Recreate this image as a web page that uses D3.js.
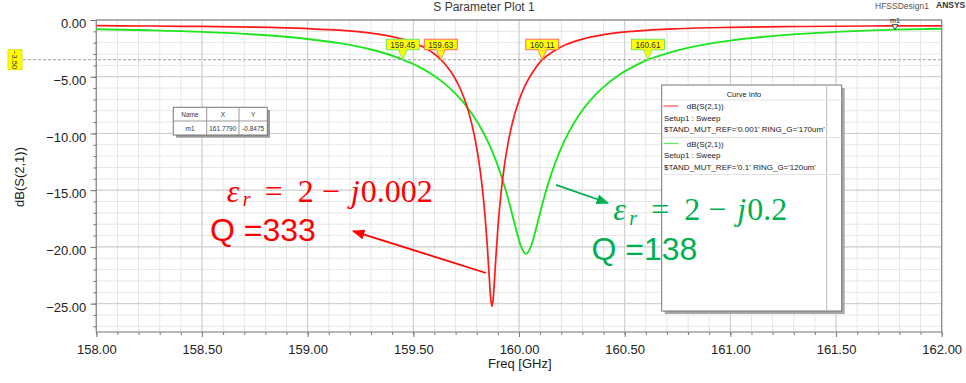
<!DOCTYPE html>
<html><head><meta charset="utf-8">
<script src="https://cdn.jsdelivr.net/npm/d3@7"></script>
<style>
html,body{margin:0;padding:0;background:#fff;}
svg{display:block;font-family:"Liberation Sans",Arial,sans-serif;}
</style></head><body>
<svg id="chart" width="966" height="383"></svg>
<script>
// Trace A: tan delta 0.001, ring gap 170 um
const freqA = [158.00,158.25,158.50,158.75,159.00,159.15,159.30,159.40,159.48,159.55,159.60,159.63,159.66,159.69,159.72,159.75,159.77,159.79,159.81,159.825,159.84,159.85,159.86,159.866,159.872,159.878,159.884,159.89,159.90,159.915,159.93,159.95,159.97,160.00,160.03,160.06,160.11,160.16,160.22,160.30,160.40,160.55,160.75,161.00,161.25,161.50,161.75,162.00];
const dbA   = [-0.50,-0.53,-0.57,-0.63,-0.76,-0.90,-1.16,-1.46,-1.86,-2.41,-3.00,-3.50,-4.12,-4.91,-5.97,-7.41,-8.67,-10.29,-12.44,-14.58,-17.44,-19.93,-22.90,-24.54,-25.25,-24.54,-22.90,-21.08,-18.37,-15.25,-12.95,-10.67,-8.97,-7.09,-5.74,-4.74,-3.50,-2.80,-2.19,-1.68,-1.29,-0.98,-0.77,-0.65,-0.59,-0.55,-0.52,-0.51];
// Trace B: tan delta 0.1, ring gap 120 um
const freqB = [158.00,158.25,158.50,158.75,159.00,159.15,159.30,159.38,159.45,159.52,159.60,159.67,159.73,159.78,159.83,159.87,159.91,159.94,159.97,159.99,160.01,160.033,160.055,160.075,160.095,160.125,160.155,160.195,160.235,160.285,160.335,160.395,160.465,160.545,160.61,160.70,160.85,161.00,161.25,161.50,161.779,162.00];
const dbB   = [-0.81,-0.91,-1.05,-1.28,-1.67,-2.04,-2.60,-3.02,-3.50,-4.07,-4.94,-5.96,-7.11,-8.33,-9.87,-11.43,-13.39,-15.19,-17.27,-18.73,-19.98,-20.61,-20.03,-18.80,-17.35,-15.25,-13.45,-11.48,-9.91,-8.35,-7.13,-5.98,-4.95,-4.07,-3.50,-2.94,-2.26,-1.82,-1.33,-1.05,-0.8475,-0.77];

const xTicks = [158.0,158.5,159.0,159.5,160.0,160.5,161.0,161.5,162.0];
const yTicks = [0,-5,-10,-15,-20,-25];
const markerLevel = -3.5;
const markerFreqs = [159.45,159.63,160.11,160.61];
const markerTrace = ["B","A","A","B"];
const m1Freq = 161.779;
const m1Value = -0.8475;

const colA = "#ff1a1a", colB = "#1ee61e";
const svg = d3.select("#chart");
const L = 96.3, R = 941.7, T = 20, B = 332;
const x = d3.scaleLinear().domain([158,162]).range([L,R]);
const y = d3.scaleLinear().domain([-27.5,0]).range([B,T]);

// titles
svg.append("text").attr("x",484).attr("y",11).attr("text-anchor","middle")
  .attr("font-size",12).attr("fill","#3a3a3a").text("S Parameter Plot 1");
svg.append("text").attr("x",875).attr("y",9).attr("font-size",8.5).attr("fill","#555").text("HFSSDesign1");
svg.append("text").attr("x",936).attr("y",8).attr("font-size",8.5).attr("font-weight","bold").attr("fill","#333").text("ANSYS");

// grid
const g = svg.append("g");
const minorX = d3.range(0,41).map(i=>158+i*0.1);
const minorY = d3.range(0,28).map(i=>-i);
g.selectAll(".mx").data(minorX).join("line")
  .attr("x1",d=>x(d)).attr("x2",d=>x(d)).attr("y1",T).attr("y2",B)
  .attr("stroke","#e6e6e6").attr("stroke-width",1);
g.selectAll(".my").data(minorY).join("line")
  .attr("x1",L).attr("x2",R).attr("y1",d=>y(d)).attr("y2",d=>y(d))
  .attr("stroke","#e6e6e6").attr("stroke-width",1);
g.selectAll(".Mx").data(xTicks).join("line")
  .attr("x1",d=>x(d)).attr("x2",d=>x(d)).attr("y1",T).attr("y2",B)
  .attr("stroke","#cdcdcd").attr("stroke-width",1);
g.selectAll(".My").data(yTicks).join("line")
  .attr("x1",L).attr("x2",R).attr("y1",d=>y(d)).attr("y2",d=>y(d))
  .attr("stroke","#cdcdcd").attr("stroke-width",1);

// axes
const fmt = d3.format(".2f");
const xMinor = svg.append("g").attr("transform",`translate(0,${B})`)
  .call(d3.axisBottom(x).tickValues(minorX).tickSize(3).tickFormat(""));
const xAxis = svg.append("g").attr("transform",`translate(0,${B})`)
  .call(d3.axisBottom(x).tickValues(xTicks).tickSize(5).tickPadding(8).tickFormat(fmt));
const yMinor = svg.append("g").attr("transform",`translate(${L},0)`)
  .call(d3.axisLeft(y).tickValues(minorY).tickSize(3).tickFormat(""));
const yAxis = svg.append("g").attr("transform",`translate(${L},0)`)
  .call(d3.axisLeft(y).tickValues(yTicks).tickSize(6).tickPadding(4).tickFormat(fmt));
[xMinor,xAxis,yMinor,yAxis].forEach(a=>{
  a.select(".domain").remove();
  a.selectAll("line").attr("stroke","#777");
  a.selectAll("text").attr("font-size",13).attr("fill","#222")
   .attr("font-family","'Liberation Sans',Arial,sans-serif");
});
yAxis.selectAll("text").attr("dy","0.6em");
svg.append("rect").attr("x",L).attr("y",T).attr("width",R-L).attr("height",B-T)
  .attr("fill","none").attr("stroke","#8a8a8a").attr("stroke-width",1.2);

svg.append("text").attr("x",488).attr("y",368).attr("font-size",13).attr("fill","#222").text("Freq [GHz]");
svg.append("text").attr("transform","translate(24,177) rotate(-90)").attr("text-anchor","middle")
  .attr("font-size",13).attr("fill","#222").text("dB(S(2,1))");

// traces
svg.append("clipPath").attr("id","plotclip").append("rect")
  .attr("x",L).attr("y",T).attr("width",R-L).attr("height",B-T);
const line = d3.line().x(d=>x(d[0])).y(d=>y(d[1])).curve(d3.curveMonotoneX);
const dataA = freqA.map((f,i)=>[f,dbA[i]]);
const dataB = freqB.map((f,i)=>[f,dbB[i]]);
const traces = svg.append("g").attr("clip-path","url(#plotclip)");
traces.append("path").datum(dataB).attr("d",line).attr("fill","none")
  .attr("stroke",colB).attr("stroke-width",1.9);
traces.append("path").datum(dataA).attr("d",line).attr("fill","none")
  .attr("stroke",colA).attr("stroke-width",1.7);

// -3.5 dB reference line and its label
svg.append("line").attr("x1",23).attr("x2",R).attr("y1",y(markerLevel)).attr("y2",y(markerLevel))
  .attr("stroke","#a0a0a0").attr("stroke-dasharray","3,2").attr("stroke-width",1);
svg.append("rect").attr("x",8).attr("y",y(markerLevel)-10).attr("width",14).attr("height",20)
  .attr("fill","#ffff00").attr("stroke","#d8d800").attr("stroke-width",0.8);
svg.append("text").attr("transform",`translate(15,${y(markerLevel)}) rotate(90)`)
  .attr("text-anchor","middle").attr("dy","0.35em").attr("font-size",7.5).attr("fill","#333")
  .text(fmt(markerLevel));

// crossing markers
const mk = svg.append("g");
markerFreqs.forEach((f,i)=>{
  const px = x(f), py = y(markerLevel);
  const sc = markerTrace[i]==="A" ? "#ff6a6a" : "#6ae86a";
  mk.append("path").attr("d",`M${px-4.5},${py-10}L${px+4.5},${py-10}L${px},${py}Z`)
    .attr("fill","#ffff00").attr("stroke",sc).attr("stroke-width",0.8);
  mk.append("rect").attr("x",px-16.5).attr("y",py-20.5).attr("width",33).attr("height",10.5)
    .attr("fill","#ffff00").attr("stroke",sc).attr("stroke-width",1);
  mk.append("path").attr("d",`M${px-4},${py-10.3}L${px+4},${py-10.3}`).attr("stroke","#ffff00").attr("stroke-width",1.2);
  mk.append("text").attr("x",px).attr("y",py-12.2).attr("text-anchor","middle")
    .attr("font-size",8.2).attr("fill","#333").text(f.toFixed(2));
});

// m1 marker
const m1x = x(m1Freq), m1y = y(m1Value);
svg.append("path").attr("d",`M${m1x-3},${m1y-5}L${m1x+3},${m1y-5}L${m1x},${m1y}Z`)
  .attr("fill","#fff").attr("stroke","#333").attr("stroke-width",0.9);
svg.append("text").attr("x",m1x).attr("y",m1y-7).attr("text-anchor","middle")
  .attr("font-size",7).attr("fill","#222").text("m1");

// marker table
const tb = svg.append("g").attr("font-size",6.5).attr("fill","#333");
tb.append("rect").attr("x",176).attr("y",110).attr("width",94).attr("height",27.7).attr("fill","#9a9a9a");
tb.append("rect").attr("x",173.3).attr("y",107.3).attr("width",94).attr("height",27.7)
  .attr("fill","#fff").attr("stroke","#777").attr("stroke-width",1);
tb.append("line").attr("x1",173.3).attr("x2",267.3).attr("y1",121).attr("y2",121).attr("stroke","#999");
[206.7,239].forEach(cx=>tb.append("line").attr("x1",cx).attr("x2",cx).attr("y1",107.3).attr("y2",135).attr("stroke","#999"));
const cols = [190,222.8,253.2];
["Name","X","Y"].forEach((t,i)=>tb.append("text").attr("x",cols[i]).attr("y",116.5).attr("text-anchor","middle").text(t));
["m1",m1Freq.toFixed(4),m1Value.toFixed(4)].forEach((t,i)=>tb.append("text").attr("x",cols[i]).attr("y",130.5).attr("text-anchor","middle").text(t));

// curve info box
const ci = svg.append("g").attr("font-size",8).attr("fill","#222");
ci.append("rect").attr("x",664.7).attr("y",88).attr("width",180).attr("height",226).attr("fill","#a8a8a8");
ci.append("rect").attr("x",661.7).attr("y",85).attr("width",180).attr("height",226)
  .attr("fill","#fff").attr("stroke","#777").attr("stroke-width",1);
ci.append("line").attr("x1",826.7).attr("x2",826.7).attr("y1",85).attr("y2",311).attr("stroke","#bbb");
[100,137.5,174.5].forEach(yy=>ci.append("line").attr("x1",662).attr("x2",841.5).attr("y1",yy).attr("y2",yy).attr("stroke","#e2e2e2"));
ci.append("text").attr("x",744).attr("y",96.5).attr("text-anchor","middle").attr("font-size",7.5).text("Curve Info");
const entries = [
  {c:colA, y0:106, sub:"$TAND_MUT_REF='0.001' RING_G='170um'"},
  {c:colB, y0:143.5, sub:"$TAND_MUT_REF='0.1' RING_G='120um'"}
];
entries.forEach(e=>{
  ci.append("line").attr("x1",663.5).attr("x2",678.5).attr("y1",e.y0).attr("y2",e.y0)
    .attr("stroke",e.c).attr("stroke-width",1.3).attr("opacity",0.7);
  ci.append("text").attr("x",686.7).attr("y",e.y0+3).text("dB(S(2,1))");
  ci.append("text").attr("x",664).attr("y",e.y0+14.5).text("Setup1 : Sweep");
  ci.append("text").attr("x",664).attr("y",e.y0+26).text(e.sub);
});

// annotations
function eqn(x0, base, color, tail){
  const t = svg.append("text").attr("y",base).attr("fill",color)
    .attr("font-family","'Liberation Serif','DejaVu Serif',serif").attr("font-size",32);
  t.append("tspan").attr("x",x0).attr("font-style","italic").text("ε");
  t.append("tspan").attr("x",x0+16).attr("y",base+4.5).attr("font-style","italic").attr("font-size",20).text("r");
  t.append("tspan").attr("x",x0+38).attr("y",base).text("=");
  t.append("tspan").attr("x",x0+71).text("2");
  t.append("tspan").attr("x",x0+95).text("−");
  t.append("tspan").attr("x",x0+124).attr("font-style","italic").text("j");
  t.append("tspan").attr("x",x0+134).text(tail);
}
eqn(226.7, 201.7, "#ff0000", "0.002");
eqn(613.3, 220, "#00b050", "0.2");
svg.append("text").attr("x",210).attr("y",241).attr("font-size",32).attr("fill","#ff0000").text("Q =333");
svg.append("text").attr("x",591.5).attr("y",259.5).attr("font-size",32).attr("fill","#00b050").text("Q =138");

// arrows
const defs = svg.append("defs");
[["ahR","#ff0000"],["ahG","#00b050"]].forEach(([id,c])=>{
  defs.append("marker").attr("id",id).attr("viewBox","0 0 10 10").attr("refX",9).attr("refY",5)
    .attr("markerWidth",7).attr("markerHeight",7).attr("orient","auto-start-reverse")
    .append("path").attr("d","M0,1L10,5L0,9Z").attr("fill",c);
});
const arrows = [
  {f0:159.844, d0:-22.3, f1:159.215, d1:-18.6, c:"#ff0000", m:"ahR"},
  {f0:160.175, d0:-14.54, f1:160.421, d1:-16.13, c:"#00b050", m:"ahG"}
];
arrows.forEach(a=>{
  svg.append("line").attr("x1",x(a.f0)).attr("y1",y(a.d0)).attr("x2",x(a.f1)).attr("y2",y(a.d1))
    .attr("stroke",a.c).attr("stroke-width",1.8).attr("marker-end",`url(#${a.m})`);
});
</script>
</body></html>
